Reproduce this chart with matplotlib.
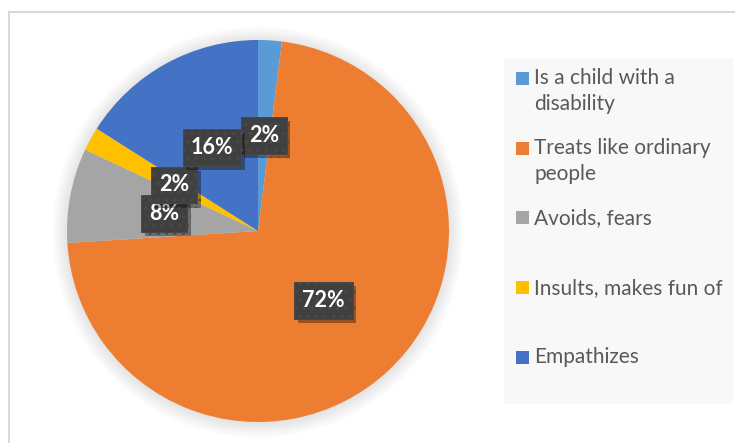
import matplotlib.pyplot as plt
import matplotlib.patheffects as pe
from matplotlib.patches import Rectangle, Circle

# Survey answers and their shares (%)
categories = ['Is a child with a\ndisability', 'Treats like ordinary\npeople',
              'Avoids, fears', 'Insults, makes fun of', 'Empathizes']
shares = [2, 72, 8, 2, 16]
colors = ['#5B9BD5', '#ED7D31', '#A5A5A5', '#FFC000', '#4472C4']

W, H = 735, 443
fig = plt.figure(figsize=(W / 100, H / 100), dpi=100)
fig.patch.set_facecolor('white')

# chart frame (only the top and left edges fall inside the image)
fig.patches.append(Rectangle((9 / W, -0.1), 1.2, 1 - 12 / H + 0.1,
                             transform=fig.transFigure, fill=False,
                             edgecolor='#D9D9D9', linewidth=1.5))

# pie axes: center at (258, 231) px, radius 191 px
R, lim = 191, 1.1
side = 2 * R * lim
cx, cy = 258, H - 231
ax = fig.add_axes([(cx - side / 2) / W, (cy - side / 2) / H, side / W, side / H])

# soft shadow around the pie
for i in range(14):
    ax.add_patch(Circle((0.0, -0.006), 1.0 + i * 0.006, facecolor='black',
                        alpha=0.008, edgecolor='none', zorder=0))

wedges, texts, autotexts = ax.pie(
    shares, colors=colors, startangle=90, counterclock=False,
    autopct='%d%%', pctdistance=0.5, radius=1.0,
    wedgeprops=dict(linewidth=0),
    textprops=dict(color='white', fontsize=15.5, fontweight='bold', family='Lato'))

ax.set_xlim(-lim, lim)
ax.set_ylim(-lim, lim)
ax.set_aspect('equal')
ax.axis('off')

for t in autotexts:
    t.set_bbox(dict(boxstyle='square,pad=0.37', facecolor='#404040',
                    edgecolor='#4A4A4A', hatch='..', linewidth=0.5))
    t.get_bbox_patch().set_path_effects([
        pe.withSimplePatchShadow(offset=(2.5, -3), shadow_rgbFace='black', alpha=0.35),
        pe.Normal()])

# legend panel
fig.patches.append(Rectangle((504 / W, 1 - 404 / H), (733 - 504) / W, (404 - 58) / H,
                             transform=fig.transFigure, facecolor='#F8F8F8',
                             edgecolor='none'))
for i, (label, c) in enumerate(zip(categories, colors)):
    yc = 78.5 + i * 69.7
    fig.patches.append(Rectangle((516 / W, 1 - (yc + 6.5) / H), 13 / W, 13 / H,
                                 transform=fig.transFigure, facecolor=c,
                                 edgecolor='none'))
    fig.text(534 / W, 1 - (yc - 10) / H, label, ha='left', va='top',
             fontsize=15, color='#595959', family='Lato', linespacing=1.35)

fig.savefig('out.png', dpi=100)
